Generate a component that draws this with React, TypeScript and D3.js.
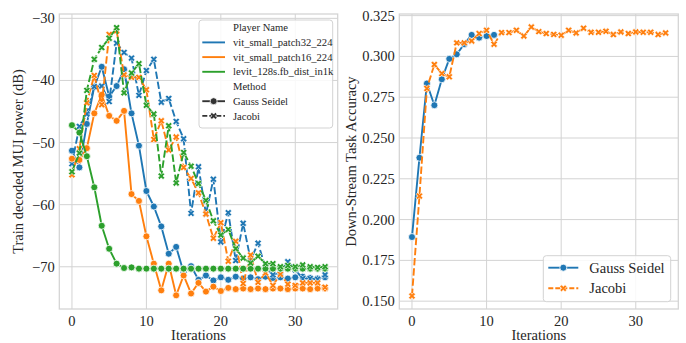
import React from 'react';
import * as d3 from 'd3';

// Iteration index shared by every series
const ITERATIONS = [0, 1, 2, 3, 4, 5, 6, 7, 8, 9, 10, 11, 12, 13, 14, 15, 16, 17, 18, 19, 20, 21, 22, 23, 24, 25, 26, 27, 28, 29, 30, 31, 32, 33, 34];

// Train decoded MUI power (dB) per player and method
const P32_GAUSS = [-51.3, -54.0, -47.0, -41.0, -37.8, -42.6, -40.9, -38.2, -45.3, -50.5, -57.8, -60.3, -63.5, -67.9, -66.8, -70.9, -69.9, -72.1, -71.4, -72.2, -71.7, -72.1, -71.6, -71.9, -71.7, -72.0, -71.6, -71.8, -71.7, -71.9, -71.7, -71.6, -71.8, -71.9, -71.7];
const P32_JACOBI = [-53.4, -47.4, -45.4, -41.0, -40.9, -43.4, -34.0, -35.5, -36.4, -42.4, -38.4, -36.6, -43.5, -42.9, -46.6, -49.4, -61.4, -53.9, -61.5, -55.9, -66.0, -61.3, -69.0, -63.0, -68.9, -66.2, -70.2, -71.3, -70.9, -69.2, -70.5, -71.9, -71.9, -72.0, -71.3];
const P16_GAUSS = [-52.6, -52.8, -50.9, -45.3, -42.3, -45.7, -46.5, -44.9, -58.3, -59.4, -65.1, -69.5, -73.8, -69.5, -74.6, -71.4, -74.3, -72.6, -74.0, -73.2, -73.9, -73.4, -73.6, -73.5, -73.6, -73.5, -73.6, -73.5, -73.5, -73.6, -73.5, -73.5, -73.6, -73.5, -73.5];
const P16_JACOBI = [-55.2, -51.0, -43.6, -39.2, -43.9, -32.6, -32.0, -39.1, -39.5, -39.5, -41.5, -49.5, -46.5, -51.2, -49.1, -54.0, -55.8, -58.1, -61.5, -65.4, -62.9, -69.1, -65.9, -72.7, -68.1, -72.5, -71.0, -73.0, -71.2, -72.8, -73.0, -72.6, -72.6, -72.6, -73.3];
const LEVIT_GAUSS = [-47.2, -48.4, -52.2, -57.2, -63.4, -67.1, -69.5, -70.2, -70.1, -70.3, -70.3, -70.3, -70.3, -70.3, -70.3, -70.3, -70.3, -70.3, -70.3, -70.3, -70.3, -70.3, -70.3, -70.3, -70.3, -70.3, -70.3, -70.3, -70.3, -70.3, -70.3, -70.3, -70.3, -70.3, -70.3];
const LEVIT_JACOBI = [-54.7, -51.7, -41.6, -36.6, -34.7, -33.2, -31.5, -42.0, -38.8, -37.3, -44.0, -45.4, -55.4, -47.3, -56.5, -51.6, -53.8, -56.6, -59.3, -62.6, -64.9, -64.0, -67.1, -68.6, -69.4, -68.3, -69.5, -69.5, -70.0, -69.8, -70.0, -69.7, -70.0, -70.1, -70.0];

// Down-stream task accuracy per method
const ACC_GAUSS = [0.1893, 0.2379, 0.2834, 0.2701, 0.2860, 0.2985, 0.3013, 0.3075, 0.3132, 0.3115, 0.3125, 0.3132];
const ACC_JACOBI = [0.1532, 0.2144, 0.2804, 0.2950, 0.2895, 0.2875, 0.3083, 0.3083, 0.3095, 0.3140, 0.3160, 0.3075, 0.3146, 0.3146, 0.3160, 0.3125, 0.3180, 0.3152, 0.3140, 0.3135, 0.3130, 0.3160, 0.3144, 0.3173, 0.3148, 0.3148, 0.3154, 0.3134, 0.3150, 0.3140, 0.3150, 0.3148, 0.3148, 0.3134, 0.3144];

const PLAYERS = ['vit_small_patch32_224', 'vit_small_patch16_224', 'levit_128s.fb_dist_in1k'];
const METHODS = ['Gauss Seidel', 'Jacobi'];
const PALETTE = ['#1f77b4', '#ff7f0e', '#2ca02c'];

const X_TICKS = [0, 10, 20, 30];
const MUI_TICKS = [-70, -60, -50, -40, -30];
const ACC_TICKS = [0.15, 0.175, 0.2, 0.225, 0.25, 0.275, 0.3, 0.325];

const FONT = "'Liberation Serif', 'Times New Roman', Times, 'DejaVu Serif', serif";
const GRID = '#d3d3d3';
const TEXT = '#262626';
const DASH = '7.4,2.8';

const LEFT = { x0: 59.3, x1: 337.7, y0: 14, y1: 309 };
const RIGHT = { x0: 399.3, x1: 678.3, y0: 14, y1: 309 };

const xLeft = d3.scaleLinear().domain([-1.7, 35.7]).range([LEFT.x0, LEFT.x1]);
const xRight = d3.scaleLinear().domain([-1.7, 35.7]).range([RIGHT.x0, RIGHT.x1]);
const yMui = d3.scaleLinear().domain([-76.8, -29.3]).range([LEFT.y1, LEFT.y0]);
const yAcc = d3.scaleLinear().domain([0.1452, 0.326]).range([RIGHT.y1, RIGHT.y0]);

const crossPath = d3.symbol().type(d3.symbolCross).size(30)() as string;

type Series = { values: number[]; color: string; method: number };

function Marker({ x, y, color, method }: { x: number; y: number; color: string; method: number }) {
  if (method === 0) {
    return <circle cx={x} cy={y} r={3.5} fill={color} stroke="#fff" strokeWidth={0.8} />;
  }
  return (
    <path d={crossPath} transform={`translate(${x},${y}) rotate(45)`} fill={color} stroke="#fff" strokeWidth={0.6} />
  );
}

function SeriesMarks({ s, x, y }: { s: Series; x: d3.ScaleLinear<number, number>; y: d3.ScaleLinear<number, number> }) {
  const line = d3
    .line<number>()
    .x((_, i) => x(ITERATIONS[i]))
    .y((v) => y(v));
  return (
    <g>
      <path
        d={line(s.values) as string}
        fill="none"
        stroke={s.color}
        strokeWidth={1.9}
        strokeDasharray={s.method === 1 ? DASH : undefined}
        strokeLinejoin="round"
      />
      {s.values.map((v, i) => (
        <Marker key={i} x={x(ITERATIONS[i])} y={y(v)} color={s.color} method={s.method} />
      ))}
    </g>
  );
}

function Frame({
  box,
  x,
  y,
  yTicks,
  yFormat,
  yLabel,
  yLabelX,
}: {
  box: typeof LEFT;
  x: d3.ScaleLinear<number, number>;
  y: d3.ScaleLinear<number, number>;
  yTicks: number[];
  yFormat: (v: number) => string;
  yLabel: string;
  yLabelX: number;
}) {
  const cy = (box.y0 + box.y1) / 2;
  return (
    <g style={{ fontFamily: FONT }} fill={TEXT}>
      {X_TICKS.map((t) => (
        <line key={`gx${t}`} x1={x(t)} x2={x(t)} y1={box.y0} y2={box.y1} stroke={GRID} strokeWidth={1} />
      ))}
      {yTicks.map((t) => (
        <line key={`gy${t}`} x1={box.x0} x2={box.x1} y1={y(t)} y2={y(t)} stroke={GRID} strokeWidth={1} />
      ))}
      {X_TICKS.map((t) => (
        <text key={`tx${t}`} x={x(t)} y={box.y1 + 16.5} textAnchor="middle" fontSize={14.5}>
          {t}
        </text>
      ))}
      {yTicks.map((t) => (
        <text key={`ty${t}`} x={box.x0 - 4.5} y={y(t) + 5} textAnchor="end" fontSize={14.5}>
          {yFormat(t)}
        </text>
      ))}
      <text x={(box.x0 + box.x1) / 2} y={340} textAnchor="middle" fontSize={14.5}>
        Iterations
      </text>
      <text transform={`translate(${yLabelX},${cy}) rotate(-90)`} textAnchor="middle" fontSize={14.5}>
        {yLabel}
      </text>
    </g>
  );
}

function FrameBorder({ box }: { box: typeof LEFT }) {
  return (
    <rect x={box.x0} y={box.y0} width={box.x1 - box.x0} height={box.y1 - box.y0} fill="none" stroke={GRID} strokeWidth={1.25} />
  );
}

function LegendHandle({ x, y, color, method, width }: { x: number; y: number; color: string; method: number | null; width: number }) {
  return (
    <g>
      <line x1={x} x2={x + width} y1={y} y2={y} stroke={color} strokeWidth={1.9} strokeDasharray={method === 1 ? '5,2' : undefined} />
      {method !== null && <Marker x={x + width / 2} y={y} color={color} method={method} />}
    </g>
  );
}

export default function App() {
  const muiSeries: Series[] = [
    { values: P32_GAUSS, color: PALETTE[0], method: 0 },
    { values: P32_JACOBI, color: PALETTE[0], method: 1 },
    { values: P16_GAUSS, color: PALETTE[1], method: 0 },
    { values: P16_JACOBI, color: PALETTE[1], method: 1 },
    { values: LEVIT_GAUSS, color: PALETTE[2], method: 0 },
    { values: LEVIT_JACOBI, color: PALETTE[2], method: 1 },
  ];
  const accSeries: Series[] = [
    { values: ACC_GAUSS, color: PALETTE[0], method: 0 },
    { values: ACC_JACOBI, color: PALETTE[1], method: 1 },
  ];

  const muiFormat = (v: number) => d3.format('d')(v).replace('-', '\u2212');
  const accFormat = d3.format('.3f');

  // left legend rows
  const lgX = 199;
  const lgY = 20;
  const rowH = 14.7;
  const handleX = 202.3;
  const textX = 233;
  const rows: { label: string; color: string | null; method: number | null }[] = [
    { label: 'Player Name', color: null, method: null },
    ...PLAYERS.map((p, i) => ({ label: p, color: PALETTE[i], method: null })),
    { label: 'Method', color: null, method: null },
    ...METHODS.map((m, i) => ({ label: m, color: '#333333', method: i })),
  ];

  return (
    <svg width={686} height={343} style={{ position: 'absolute', left: 0, top: 0, background: '#fff', fontFamily: FONT }}>
      <rect width={686} height={343} fill="#fff" />

      {/* MUI power panel */}
      <Frame box={LEFT} x={xLeft} y={yMui} yTicks={MUI_TICKS} yFormat={muiFormat} yLabel="Train decoded MUI power (dB)" yLabelX={23} />
      <g>
        {muiSeries.map((s, i) => (
          <SeriesMarks key={i} s={s} x={xLeft} y={yMui} />
        ))}
      </g>
      <FrameBorder box={LEFT} />
      <g style={{ fontFamily: FONT }} fontSize={10.6} fill={TEXT}>
        <rect x={lgX} y={lgY} width={133.7} height={108} rx={3} fill="#fff" fillOpacity={0.85} stroke={GRID} strokeWidth={1} />
        {rows.map((r, i) => {
          const cy = 27.7 + i * rowH;
          return (
            <g key={i}>
              {r.color && <LegendHandle x={handleX} y={cy} color={r.color} method={r.method} width={22.7} />}
              <text x={textX} y={cy + 3.6}>
                {r.label}
              </text>
            </g>
          );
        })}
      </g>

      {/* accuracy panel */}
      <Frame box={RIGHT} x={xRight} y={yAcc} yTicks={ACC_TICKS} yFormat={accFormat} yLabel="Down-Stream Task Accuracy" yLabelX={356} />
      <g>
        {accSeries.map((s, i) => (
          <SeriesMarks key={i} s={s} x={xRight} y={yAcc} />
        ))}
      </g>
      <FrameBorder box={RIGHT} />
      <g style={{ fontFamily: FONT }} fontSize={14.5} fill={TEXT}>
        <rect x={543.3} y={255.7} width={127.4} height={46} rx={3} fill="#fff" fillOpacity={0.85} stroke={GRID} strokeWidth={1} />
        {METHODS.map((m, i) => {
          const cy = 267.7 + i * 20.6;
          return (
            <g key={m}>
              <LegendHandle x={548.3} y={cy} color={PALETTE[i]} method={i} width={30} />
              <text x={589.3} y={cy + 5}>
                {m}
              </text>
            </g>
          );
        })}
      </g>
    </svg>
  );
}
